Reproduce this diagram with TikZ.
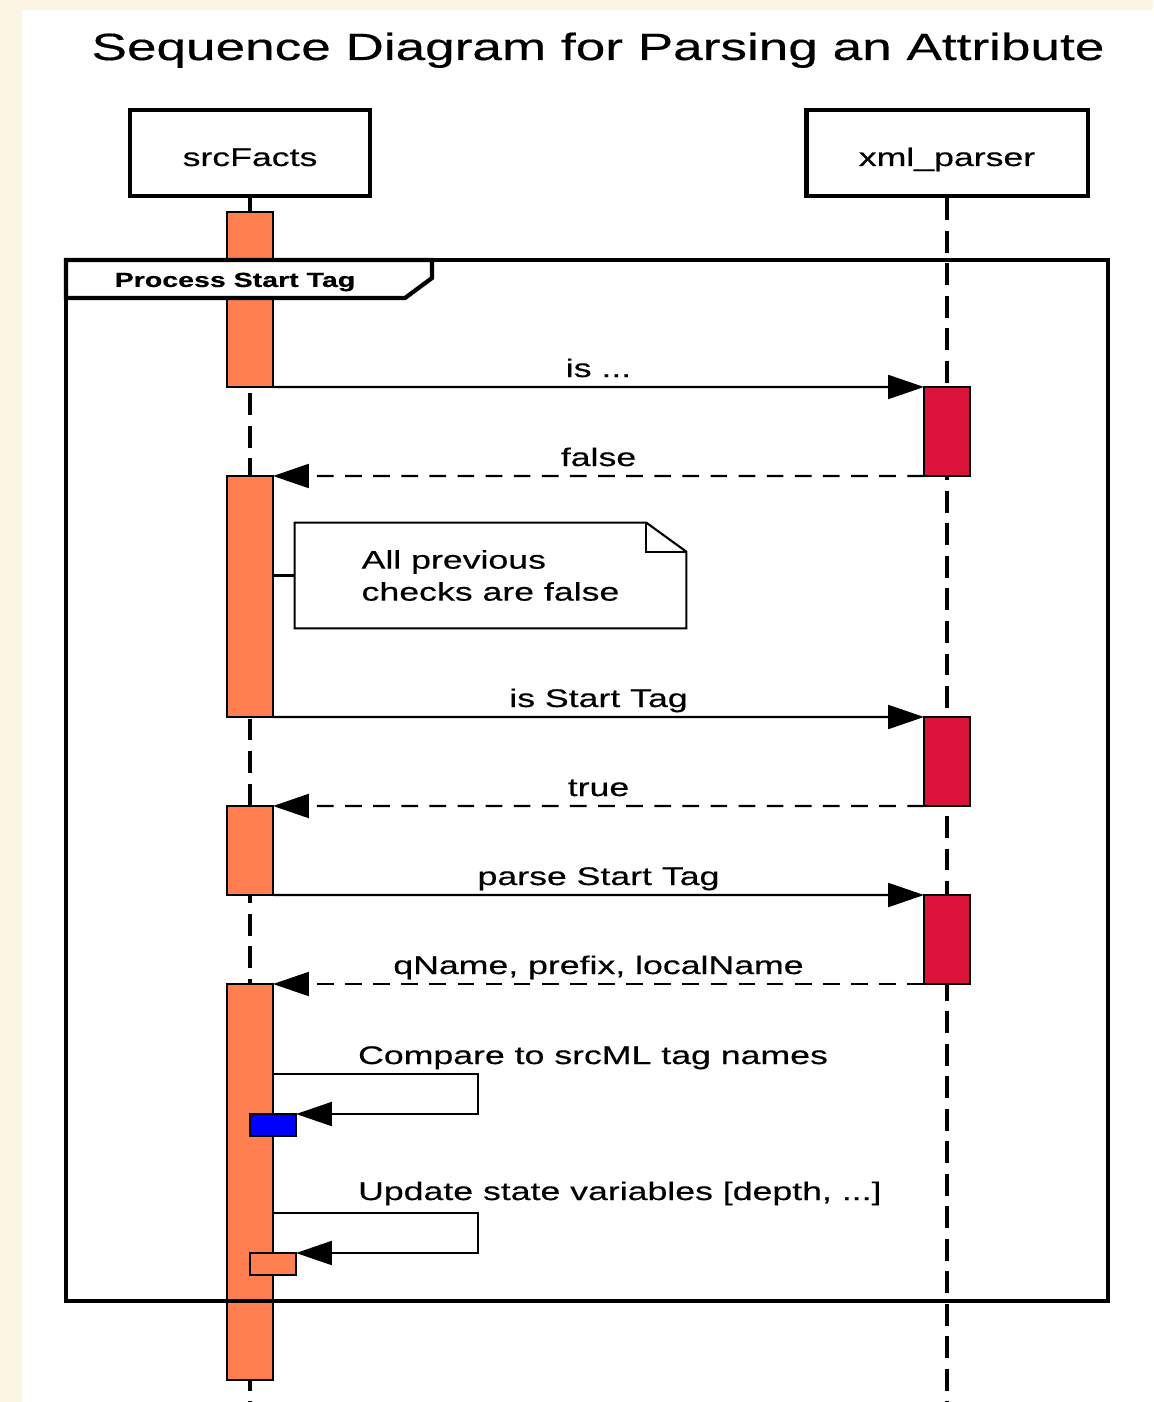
\documentclass[tikz,border=0pt]{standalone}
\usepackage{fontspec}
\setmainfont{Liberation Sans}[FakeStretch=1.4,FakeBold=0.4]
\usetikzlibrary{arrows.meta,fit}
\definecolor{creambg}{HTML}{FDF5E3}
\definecolor{actorange}{HTML}{FF7F50}
\definecolor{actred}{HTML}{DC143C}
\begin{document}
\begin{tikzpicture}[x=0.02cm,y=-0.02cm,
  every node/.style={font=\fontsize{14.5}{18.2}\selectfont},
  actor/.style={draw,line width=2.8pt,minimum height=1.72cm,inner sep=0pt,text height=0.52cm,text depth=0pt},
  lifeline/.style={line width=1.9pt,dash pattern=on 12.5pt off 6pt},
  srcact/.style={draw,fill=actorange,line width=1.2pt,inner sep=0pt,outer sep=0pt},
  xmlact/.style={srcact,fill=actred},
  call/.style={line width=1.3pt,-{Triangle[length=0.72cm,width=0.48cm]}},
  reply/.style={call,dash pattern=on 9.5pt off 6.5pt},
  lbl/.style={midway,anchor=base,yshift=0.2cm}]
% page
\fill[creambg] (0,0) rectangle (1153,1402);
\fill[white] (22,10) rectangle (1153,1402);
\useasboundingbox (0,0) rectangle (1153,1402);
\node[font=\fontsize{21.6}{26}\selectfont,anchor=base] (title) at (598,60) {Sequence Diagram for Parsing an Attribute};
% participants
\node[actor,minimum width=4.8cm] (src) at (250,153) {srcFacts};
\node[actor,minimum width=5.64cm] (xml) at (947,153) {xml\_parser};
\coordinate (srcend) at (250,1402);
\coordinate (xmlend) at (947,1402);
\draw[lifeline] (src.south) -- (srcend);
\draw[lifeline] (xml.south) -- (xmlend);
% activations
\node[srcact,fit={(227,212) (273,387)}] (s1) {};
\node[srcact,fit={(227,476) (273,717)}] (s2) {};
\node[srcact,fit={(227,806) (273,895)}] (s3) {};
\node[srcact,fit={(227,984) (273,1380)}] (s4) {};
\node[xmlact,fit={(924,387) (970,476)}] (x1) {};
\node[xmlact,fit={(924,717) (970,806)}] (x2) {};
\node[xmlact,fit={(924,895) (970,984)}] (x3) {};
% messages
\draw[call] (s1.south east) -- (x1.north west) node[lbl] {is ...};
\draw[reply] (x1.south west) -- (s2.north east) node[lbl] {false};
\node[align=left,minimum width=7.82cm,minimum height=2.1cm] (note) at (490.5,575.5) {All previous\\checks are false};
\draw[line width=1.2pt] (note.north west) -- ([xshift=-0.8cm]note.north east) -- ([yshift=-0.58cm]note.north east) -- (note.south east) -- (note.south west) -- cycle;
\draw[line width=1.2pt] ([xshift=-0.8cm]note.north east) |- ([yshift=-0.58cm]note.north east);
\draw[line width=1.2pt] (note.west -| s2.east) -- (note.west);
\draw[call] (s2.south east) -- (x2.north west) node[lbl] {is Start Tag};
\draw[reply] (x2.south west) -- (s3.north east) node[lbl] {true};
\draw[call] (s3.south east) -- (x3.north west) node[lbl] {parse Start Tag};
\draw[reply] (x3.south west) -- (s4.north east) node[lbl] {qName, prefix, localName};
% self calls
\node[srcact,fill=blue,fit={(250,1114) (296,1136)}] (cmp) {};
\node[srcact,fit={(250,1253) (296,1275)}] (upd) {};
\coordinate (cmpout) at (273,1074);
\coordinate (updout) at (273,1213);
\draw[call] (cmpout) -- ++(205,0) node[pos=0,anchor=base west,inner sep=0pt,xshift=1.68cm,yshift=0.2cm] {Compare to srcML tag names} |- (cmp.north east);
\draw[call] (updout) -- ++(205,0) node[pos=0,anchor=base west,inner sep=0pt,xshift=1.68cm,yshift=0.26cm] {Update state variables [depth, ...]} |- (upd.north east);
% frame
\draw[line width=2.4pt] (66,260) rectangle (1108,1301);
\draw[line width=2.4pt,fill=white] (66,260) -- (432,260) -- (432,278) -- (405,298) -- (66,298) -- cycle;
\node[font=\bfseries\fontsize{11.6}{14}\selectfont] (frm) at (235,282) {Process Start Tag};
\end{tikzpicture}
\end{document}
